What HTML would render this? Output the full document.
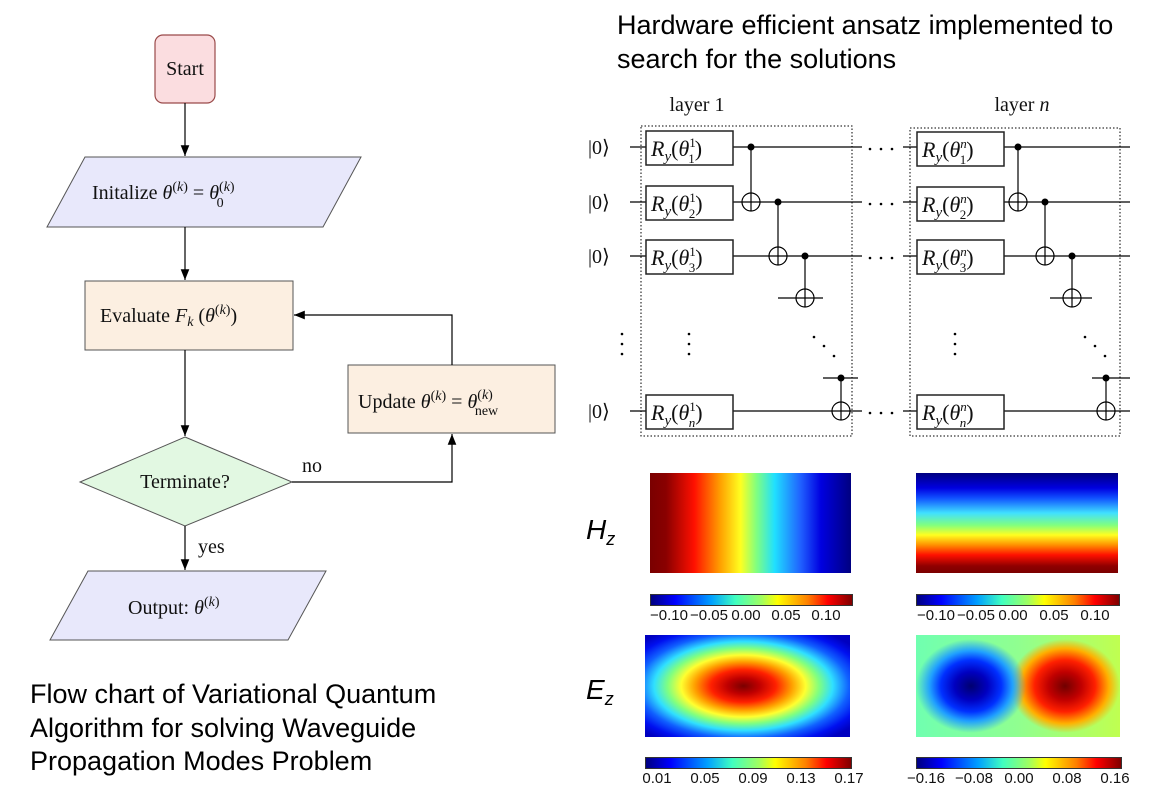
<!DOCTYPE html>
<html><head><meta charset="utf-8"><style>
body{margin:0;width:1158px;height:794px;background:#fff;overflow:hidden;position:relative}
svg{position:absolute;left:0;top:0}
.s{font-family:"Liberation Serif",serif;font-size:20px;fill:#111}
.i{font-style:italic}
.a{font-family:"Liberation Sans",sans-serif;font-size:27px;fill:#000}
.t{font-family:"Liberation Sans",sans-serif;font-size:15px;fill:#111}
.hm{position:absolute}
</style></head><body>
<div class="hm" style="left:650px;top:473px;width:201px;height:100px;background:linear-gradient(90deg,#7a0000 0%,#8a0000 8%,#ff1000 22%,#ffa000 35%,#ffff20 45%,#80ff80 53%,#20e0ff 62%,#2060ff 75%,#0000e0 85%,#000080 100%)"></div>
<div class="hm" style="left:916px;top:473px;width:202px;height:100px;background:linear-gradient(180deg,#000080 0%,#0000e0 15%,#1050ff 25%,#40e0ff 40%,#80ff80 52%,#ffff20 62%,#ff9000 72%,#ff1000 82%,#900000 93%,#7a0000 100%)"></div>
<div class="hm" style="left:650px;top:594px;width:201px;height:10px;border:1px solid #333;background:linear-gradient(90deg,#000080,#0000ff 12%,#00a0ff 30%,#40ffc0 42%,#a0ff60 55%,#ffff00 63%,#ff8000 78%,#ff0000 88%,#800000)"></div>
<div class="hm" style="left:916px;top:594px;width:202px;height:10px;border:1px solid #333;background:linear-gradient(90deg,#000080,#0000ff 12%,#00a0ff 30%,#40ffc0 42%,#a0ff60 55%,#ffff00 63%,#ff8000 78%,#ff0000 88%,#800000)"></div>
<div class="hm" style="left:645px;top:635px;width:205px;height:102px;background:radial-gradient(ellipse 66% 66% at 48% 50%,#7a0000 0%,#c00000 12%,#ff2000 24%,#ffa000 36%,#ffff30 46%,#80ff80 56%,#30e0ff 66%,#1060ff 78%,#0010f0 90%,#0000c0 100%)"></div>
<div class="hm" style="left:916px;top:635px;width:204px;height:102px;background:radial-gradient(ellipse 27% 46% at 27% 50%,#000070 0%,#0000c0 30%,#0030ff 55%,#20a0ff 75%,rgba(100,255,170,0) 100%),radial-gradient(ellipse 27% 46% at 73% 50%,#700000 0%,#c00000 30%,#ff2000 55%,#ffb000 80%,rgba(220,255,60,0) 100%),linear-gradient(90deg,#70ffb0,#90ff90 50%,#c0ff50)"></div>
<div class="hm" style="left:645px;top:757px;width:205px;height:10px;border:1px solid #333;background:linear-gradient(90deg,#000080,#0000ff 12%,#00a0ff 30%,#40ffc0 42%,#a0ff60 55%,#ffff00 63%,#ff8000 78%,#ff0000 88%,#800000)"></div>
<div class="hm" style="left:916px;top:757px;width:204px;height:10px;border:1px solid #333;background:linear-gradient(90deg,#000080,#0000ff 12%,#00a0ff 30%,#40ffc0 42%,#a0ff60 55%,#ffff00 63%,#ff8000 78%,#ff0000 88%,#800000)"></div>
<svg width="1158" height="794" viewBox="0 0 1158 794">
<defs><marker id="ar" viewBox="0 0 10 10" refX="10" refY="5" markerWidth="9" markerHeight="9" orient="auto"><path d="M0,1 L10,5 L0,9 z" fill="#000"/></marker></defs>
<rect x="155" y="35" width="60" height="68" rx="8" fill="#fbdde0" stroke="#9a4a4a" stroke-width="1.2"/>
<text x="185" y="75" class="s" text-anchor="middle">Start</text>
<line x1="185" y1="103" x2="185" y2="156" stroke="#000" stroke-width="1.2" marker-end="url(#ar)"/>
<polygon points="85,157 361,157 323,227 47,227" fill="#e8e8fb" stroke="#555" stroke-width="1"/>
<text x="92" y="199" class="s">Initalize <tspan class="i">θ</tspan><tspan dy="-8" font-size="14">(<tspan class="i">k</tspan>)</tspan><tspan dy="8"> = </tspan><tspan class="i">θ</tspan><tspan dy="-8" font-size="14">(<tspan class="i">k</tspan>)</tspan><tspan dx="-18" dy="16" font-size="14">0</tspan></text>
<line x1="185" y1="227" x2="185" y2="280" stroke="#000" stroke-width="1.2" marker-end="url(#ar)"/>
<rect x="85" y="281" width="208" height="69" fill="#fcefe1" stroke="#555" stroke-width="1"/>
<text x="100" y="322" class="s">Evaluate <tspan class="i">F</tspan><tspan class="i" font-size="14" dy="4">k</tspan><tspan dy="-4"> (</tspan><tspan class="i">θ</tspan><tspan dy="-8" font-size="14">(<tspan class="i">k</tspan>)</tspan><tspan dy="8">)</tspan></text>
<line x1="185" y1="350" x2="185" y2="436" stroke="#000" stroke-width="1.2" marker-end="url(#ar)"/>
<polygon points="185,437 292,482 185,526 80,482" fill="#e2f8e2" stroke="#555" stroke-width="1"/>
<text x="185" y="488" class="s" text-anchor="middle">Terminate?</text>
<polyline points="292,482 452,482 452,434" fill="none" stroke="#000" stroke-width="1.2" marker-end="url(#ar)"/>
<text x="302" y="472" class="s">no</text>
<rect x="348" y="365" width="207" height="68" fill="#fcefe1" stroke="#555" stroke-width="1"/>
<text x="358" y="408" class="s">Update <tspan class="i">θ</tspan><tspan dy="-8" font-size="14">(<tspan class="i">k</tspan>)</tspan><tspan dy="8"> = </tspan><tspan class="i">θ</tspan><tspan dy="-9" font-size="14">(<tspan class="i">k</tspan>)</tspan><tspan dx="-18" dy="16" font-size="14">new</tspan></text>
<polyline points="452,365 452,315 294,315" fill="none" stroke="#000" stroke-width="1.2" marker-end="url(#ar)"/>
<line x1="185" y1="526" x2="185" y2="570" stroke="#000" stroke-width="1.2" marker-end="url(#ar)"/>
<text x="198" y="553" class="s">yes</text>
<polygon points="88,571 326,571 288,640 50,640" fill="#e8e8fb" stroke="#555" stroke-width="1"/>
<text x="128" y="614" class="s">Output: <tspan class="i">θ</tspan><tspan dy="-8" font-size="14">(<tspan class="i">k</tspan>)</tspan></text>
<text x="30" y="703" class="a">Flow chart of Variational Quantum</text>
<text x="30" y="737" class="a">Algorithm for solving Waveguide</text>
<text x="30" y="770" class="a">Propagation Modes Problem</text>
<text x="617" y="34" class="a">Hardware efficient ansatz implemented to</text>
<text x="617" y="68" class="a">search for the solutions</text>
<g stroke="#000" stroke-width="1.2" fill="none">
<line x1="630" y1="147" x2="862" y2="147"/><line x1="630" y1="202" x2="862" y2="202"/><line x1="630" y1="256" x2="862" y2="256"/><line x1="630" y1="411" x2="862" y2="411"/>
<line x1="903" y1="147" x2="1130" y2="147"/><line x1="903" y1="202" x2="1130" y2="202"/><line x1="903" y1="256" x2="1130" y2="256"/><line x1="903" y1="411" x2="1130" y2="411"/>
<line x1="778" y1="298" x2="823" y2="298"/><line x1="823" y1="378" x2="858" y2="378"/>
<line x1="1050" y1="298" x2="1092" y2="298"/><line x1="1092" y1="378" x2="1130" y2="378"/>
<rect x="641" y="126" width="211" height="310" stroke-dasharray="1.5,2" stroke-width="1"/>
<rect x="910" y="128" width="210" height="308" stroke-dasharray="1.5,2" stroke-width="1"/>
</g>
<g fill="#fff" stroke="#222" stroke-width="1.5">
<rect x="646" y="131" width="87" height="34"/><rect x="646" y="186" width="87" height="34"/><rect x="646" y="240" width="87" height="34"/><rect x="646" y="395" width="87" height="34"/>
<rect x="917" y="132" width="87" height="34"/><rect x="917" y="187" width="87" height="34"/><rect x="917" y="240" width="87" height="34"/><rect x="917" y="395" width="87" height="34"/>
</g>
<g font-family="Liberation Serif,serif" font-size="20" fill="#111">
<text x="588" y="154">|0⟩</text><text x="588" y="209">|0⟩</text><text x="588" y="263">|0⟩</text><text x="588" y="418">|0⟩</text>
<text x="697" y="111" text-anchor="middle">layer 1</text><text x="1022" y="111" text-anchor="middle">layer <tspan font-style="italic">n</tspan></text>
</g>
<g fill="#000">
<circle cx="870" cy="149" r="1.3"/><circle cx="881" cy="149" r="1.3"/><circle cx="892" cy="149" r="1.3"/>
<circle cx="870" cy="204" r="1.3"/><circle cx="881" cy="204" r="1.3"/><circle cx="892" cy="204" r="1.3"/>
<circle cx="870" cy="258" r="1.3"/><circle cx="881" cy="258" r="1.3"/><circle cx="892" cy="258" r="1.3"/>
<circle cx="870" cy="413" r="1.3"/><circle cx="881" cy="413" r="1.3"/><circle cx="892" cy="413" r="1.3"/>
</g>
<g font-family="Liberation Serif,serif" font-size="22" fill="#111" font-style="italic">
<text x="651" y="156">R<tspan font-size="15" dy="5">y</tspan><tspan dy="-5" font-style="normal">(</tspan>θ<tspan font-size="13" dy="-9" font-style="normal">1</tspan><tspan font-size="13" dx="-7" dy="16" font-style="normal">1</tspan><tspan dy="-7" font-style="normal">)</tspan></text>
<text x="651" y="211">R<tspan font-size="15" dy="5">y</tspan><tspan dy="-5" font-style="normal">(</tspan>θ<tspan font-size="13" dy="-9" font-style="normal">1</tspan><tspan font-size="13" dx="-7" dy="16" font-style="normal">2</tspan><tspan dy="-7" font-style="normal">)</tspan></text>
<text x="651" y="265">R<tspan font-size="15" dy="5">y</tspan><tspan dy="-5" font-style="normal">(</tspan>θ<tspan font-size="13" dy="-9" font-style="normal">1</tspan><tspan font-size="13" dx="-7" dy="16" font-style="normal">3</tspan><tspan dy="-7" font-style="normal">)</tspan></text>
<text x="651" y="420">R<tspan font-size="15" dy="5">y</tspan><tspan dy="-5" font-style="normal">(</tspan>θ<tspan font-size="13" dy="-9" font-style="normal">1</tspan><tspan font-size="13" dx="-7" dy="16">n</tspan><tspan dy="-7" font-style="normal">)</tspan></text>
<text x="922" y="157">R<tspan font-size="15" dy="5">y</tspan><tspan dy="-5" font-style="normal">(</tspan>θ<tspan font-size="13" dy="-9">n</tspan><tspan font-size="13" dx="-7" dy="16" font-style="normal">1</tspan><tspan dy="-7" font-style="normal">)</tspan></text>
<text x="922" y="212">R<tspan font-size="15" dy="5">y</tspan><tspan dy="-5" font-style="normal">(</tspan>θ<tspan font-size="13" dy="-9">n</tspan><tspan font-size="13" dx="-7" dy="16" font-style="normal">2</tspan><tspan dy="-7" font-style="normal">)</tspan></text>
<text x="922" y="265">R<tspan font-size="15" dy="5">y</tspan><tspan dy="-5" font-style="normal">(</tspan>θ<tspan font-size="13" dy="-9">n</tspan><tspan font-size="13" dx="-7" dy="16" font-style="normal">3</tspan><tspan dy="-7" font-style="normal">)</tspan></text>
<text x="922" y="420">R<tspan font-size="15" dy="5">y</tspan><tspan dy="-5" font-style="normal">(</tspan>θ<tspan font-size="13" dy="-9">n</tspan><tspan font-size="13" dx="-7" dy="16">n</tspan><tspan dy="-7" font-style="normal">)</tspan></text>
</g>
<g stroke="#000" stroke-width="1.2" fill="none">
<line x1="751" y1="147" x2="751" y2="210"/><circle cx="751" cy="202" r="9" fill="#fff"/><line x1="751" y1="193" x2="751" y2="211"/><line x1="742" y1="202" x2="760" y2="202"/>
<line x1="778" y1="202" x2="778" y2="265"/><circle cx="778" cy="256" r="9" fill="#fff"/><line x1="778" y1="247" x2="778" y2="265"/><line x1="769" y1="256" x2="787" y2="256"/>
<line x1="805" y1="256" x2="805" y2="307"/><circle cx="805" cy="298" r="9" fill="#fff"/><line x1="805" y1="289" x2="805" y2="307"/><line x1="796" y1="298" x2="814" y2="298"/>
<line x1="841" y1="378" x2="841" y2="420"/><circle cx="841" cy="411" r="9" fill="#fff"/><line x1="841" y1="402" x2="841" y2="420"/><line x1="832" y1="411" x2="850" y2="411"/>
<line x1="1018" y1="147" x2="1018" y2="210"/><circle cx="1018" cy="202" r="9" fill="#fff"/><line x1="1018" y1="193" x2="1018" y2="211"/><line x1="1009" y1="202" x2="1027" y2="202"/>
<line x1="1045" y1="202" x2="1045" y2="265"/><circle cx="1045" cy="256" r="9" fill="#fff"/><line x1="1045" y1="247" x2="1045" y2="265"/><line x1="1036" y1="256" x2="1054" y2="256"/>
<line x1="1072" y1="256" x2="1072" y2="307"/><circle cx="1072" cy="298" r="9" fill="#fff"/><line x1="1072" y1="289" x2="1072" y2="307"/><line x1="1063" y1="298" x2="1081" y2="298"/>
<line x1="1106" y1="378" x2="1106" y2="420"/><circle cx="1106" cy="411" r="9" fill="#fff"/><line x1="1106" y1="402" x2="1106" y2="420"/><line x1="1097" y1="411" x2="1115" y2="411"/>
</g>
<g fill="#000">
<circle cx="751" cy="147" r="3.5"/><circle cx="778" cy="202" r="3.5"/><circle cx="805" cy="256" r="3.5"/><circle cx="841" cy="378" r="3.5"/>
<circle cx="1018" cy="147" r="3.5"/><circle cx="1045" cy="202" r="3.5"/><circle cx="1072" cy="256" r="3.5"/><circle cx="1106" cy="378" r="3.5"/>
<circle cx="622" cy="334" r="1.3"/><circle cx="622" cy="344" r="1.3"/><circle cx="622" cy="354" r="1.3"/>
<circle cx="689" cy="334" r="1.3"/><circle cx="689" cy="344" r="1.3"/><circle cx="689" cy="354" r="1.3"/>
<circle cx="955" cy="334" r="1.3"/><circle cx="955" cy="344" r="1.3"/><circle cx="955" cy="354" r="1.3"/>
<circle cx="814" cy="337" r="1.3"/><circle cx="824" cy="346" r="1.3"/><circle cx="834" cy="356" r="1.3"/>
<circle cx="1085" cy="337" r="1.3"/><circle cx="1095" cy="346" r="1.3"/><circle cx="1105" cy="356" r="1.3"/>
</g>
<text x="586" y="539" font-family="Liberation Sans,sans-serif" font-size="28" font-style="italic">H<tspan font-size="18" dy="6">z</tspan></text>
<text x="586" y="699" font-family="Liberation Sans,sans-serif" font-size="28" font-style="italic">E<tspan font-size="18" dy="6">z</tspan></text>
<g text-anchor="middle">
<text x="669" y="620" class="t">−0.10</text><text x="709" y="620" class="t">−0.05</text><text x="746" y="620" class="t">0.00</text><text x="786" y="620" class="t">0.05</text><text x="826" y="620" class="t">0.10</text>
<text x="936" y="620" class="t">−0.10</text><text x="976" y="620" class="t">−0.05</text><text x="1013" y="620" class="t">0.00</text><text x="1054" y="620" class="t">0.05</text><text x="1095" y="620" class="t">0.10</text>
<text x="657" y="783" class="t">0.01</text><text x="705" y="783" class="t">0.05</text><text x="753" y="783" class="t">0.09</text><text x="801" y="783" class="t">0.13</text><text x="849" y="783" class="t">0.17</text>
<text x="926" y="783" class="t">−0.16</text><text x="974" y="783" class="t">−0.08</text><text x="1019" y="783" class="t">0.00</text><text x="1067" y="783" class="t">0.08</text><text x="1115" y="783" class="t">0.16</text>
</g>
</svg>
</body></html>
